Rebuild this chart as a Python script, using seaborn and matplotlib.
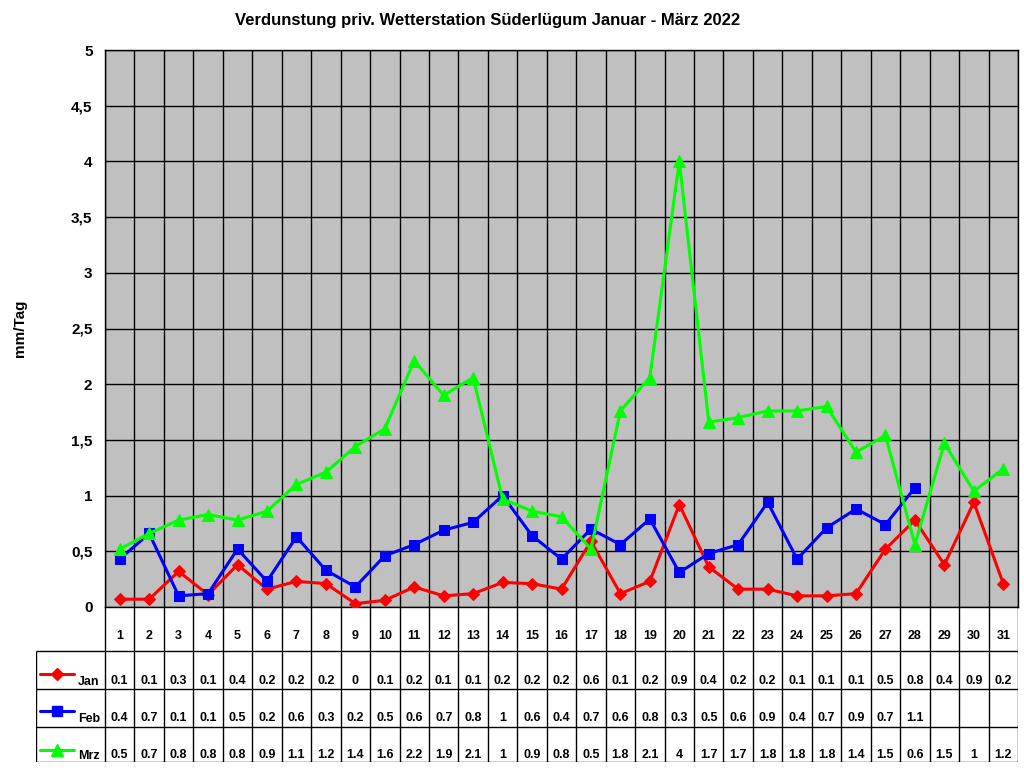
import numpy as np
import pandas as pd
import matplotlib
matplotlib.use("Agg")
import matplotlib.pyplot as plt
from matplotlib.ticker import FuncFormatter, MultipleLocator
import seaborn as sns

# Tageswerte Verdunstung (mm/Tag)
tage = list(range(1, 32))
jan = [0.07, 0.07, 0.32, 0.11, 0.38, 0.16, 0.23, 0.21, 0.03, 0.06,
       0.18, 0.10, 0.12, 0.22, 0.21, 0.16, 0.59, 0.12, 0.23, 0.92,
       0.36, 0.16, 0.16, 0.10, 0.10, 0.12, 0.52, 0.78, 0.38, 0.94, 0.21]
feb = [0.43, 0.66, 0.10, 0.12, 0.52, 0.23, 0.63, 0.33, 0.18, 0.46,
       0.56, 0.69, 0.76, 1.00, 0.64, 0.43, 0.70, 0.56, 0.79, 0.31,
       0.48, 0.56, 0.94, 0.43, 0.71, 0.88, 0.74, 1.07]
mrz = [0.52, 0.66, 0.78, 0.83, 0.78, 0.86, 1.10, 1.21, 1.44, 1.60,
       2.21, 1.90, 2.06, 0.97, 0.86, 0.81, 0.52, 1.76, 2.06, 4.00,
       1.66, 1.70, 1.76, 1.76, 1.80, 1.39, 1.54, 0.56, 1.47, 1.04, 1.24]

monate = ["Jan", "Feb", "Mrz"]
werte = {"Jan": jan, "Feb": feb, "Mrz": mrz}
farben = {"Jan": "#FF0000", "Feb": "#0000FF", "Mrz": "#00FF00"}
marker = {"Jan": "D", "Feb": "s", "Mrz": "^"}
msize = {"Jan": 6.5, "Feb": 7, "Mrz": 9}

rows = []
for m in monate:
    for t, v in zip(tage, werte[m]):
        rows.append({"Tag": t, "mm": v, "Monat": m})
df = pd.DataFrame(rows)

sns.set_style("white")
plt.rcParams["font.family"] = ["Liberation Sans", "DejaVu Sans"]
plt.rcParams["font.weight"] = "bold"
plt.rcParams["text.color"] = "black"
plt.rcParams["axes.labelcolor"] = "black"
plt.rcParams["xtick.color"] = "black"
plt.rcParams["ytick.color"] = "black"

W, H = 1024, 768
fig = plt.figure(figsize=(W / 100, H / 100), dpi=100)

# Pixel-Layout wie Excel-Vorlage
px_l, px_r, px_t, px_b = 105, 1018, 50, 607
ax = fig.add_axes([px_l / W, 1 - px_b / H, (px_r - px_l) / W, (px_b - px_t) / H])
ax.set_facecolor("#C0C0C0")

for m in monate:
    sns.lineplot(data=df[df["Monat"] == m], x="Tag", y="mm", color=farben[m],
                 marker=marker[m], markersize=msize[m], markeredgecolor=farben[m],
                 linewidth=2.2, ax=ax, legend=False, zorder=3)

ax.set_xlim(0.5, 31.5)
ax.set_ylim(0, 5)
ax.set_xticks(np.arange(0.5, 32, 1))
ax.yaxis.set_major_locator(MultipleLocator(0.5))
ax.xaxis.set_major_formatter(FuncFormatter(lambda v, p: ""))
ax.yaxis.set_major_formatter(FuncFormatter(lambda v, p: f"{v:g}".replace(".", ",")))
ax.grid(True, color="black", linewidth=1)
ax.tick_params(axis="x", length=0)
ax.tick_params(axis="y", length=6, width=1, color="black", labelsize=11,
               labelcolor="black", pad=3)
for lab in ax.get_yticklabels():
    lab.set_fontweight("bold")
for s in ax.spines.values():
    s.set_color("black")
    s.set_linewidth(1)
ax.set_xlabel("")
ax.set_ylabel("")

fig.text(488 / W, 1 - 20 / H, "Verdunstung priv. Wetterstation Süderlügum Januar - März 2022",
         ha="center", va="center", fontsize=12, fontweight="bold", color="black")
fig.text(20 / W, 1 - 328 / H, "mm/Tag", rotation=90, ha="center", va="center",
         fontsize=11, fontweight="bold", color="black")

# Datentabelle unter dem Diagramm
tab_l, tab_b = 36, 762
tax = fig.add_axes([tab_l / W, 1 - tab_b / H, (px_r - tab_l) / W, (tab_b - px_b) / H])
w = (px_r - px_l) / 31
x_left = 0.5 - (px_l - tab_l) / w
tax.set_xlim(x_left, 31.5)
tax.set_ylim(tab_b, px_b)
tax.axis("off")


def px2x(px):
    return x_left + (px - tab_l) / w


row_tops = [651, 689, 727, 762]
tax.vlines(np.arange(0.5, 32, 1), px_b, tab_b, color="black", linewidth=1)
tax.vlines(x_left, row_tops[0], tab_b, color="black", linewidth=1)
tax.hlines(row_tops, x_left, 31.5, color="black", linewidth=1)

for t in tage:
    tax.text(t, 636, str(t), ha="center", va="center", fontsize=9, fontweight="bold")

text_y = {"Jan": 681, "Feb": 718, "Mrz": 755}
line_y = {"Jan": 674, "Feb": 711, "Mrz": 750}
for m in monate:
    for t, v in zip(tage, werte[m]):
        tax.text(t, text_y[m], f"{round(v, 1):g}", ha="center", va="center",
                 fontsize=9, fontweight="bold")
    x1, x2 = px2x(40), px2x(74)
    tax.plot([x1, (x1 + x2) / 2, x2], [line_y[m]] * 3, color=farben[m], linewidth=2.2,
             marker=marker[m], markersize=msize[m], markevery=[1],
             markeredgecolor=farben[m], clip_on=False)
    tax.text(px2x(78), text_y[m] + 1, m, ha="left", va="center", fontsize=9,
             fontweight="bold")

fig.savefig("out.png", dpi=100)
